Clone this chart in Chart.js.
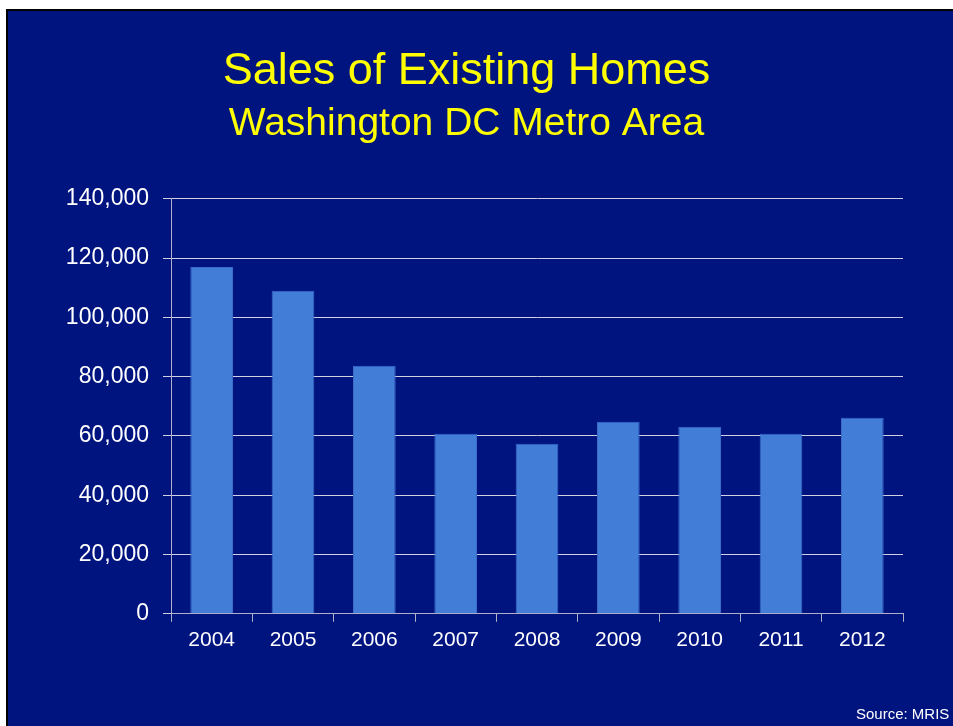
<!DOCTYPE html>
<html>
<head>
<meta charset="utf-8">
<script src="https://cdn.jsdelivr.net/npm/chart.js@4"></script>
<style>
  body { margin: 0; background: #fff; width: 953px; height: 726px; overflow: hidden; position: relative; font-family: "Liberation Sans", Arial, sans-serif; }
  #frame { position: absolute; left: 6px; top: 9px; width: 947px; height: 717px; background: #001480; border-left: 2px solid #000; border-top: 2px solid #000; box-sizing: border-box; }
  #wrap { position: absolute; left: 0; top: 0; width: 953px; height: 726px; }
  #source { position: absolute; left: 856px; top: 705px; color: #fff; font-size: 15px; white-space: nowrap; }
</style>
</head>
<body>
<div id="frame"></div>
<div id="wrap"><canvas id="chart" width="953" height="726"></canvas></div>
<div id="source">Source: MRIS</div>
<script>
const years = ['2004', '2005', '2006', '2007', '2008', '2009', '2010', '2011', '2012'];
const sales = [117000, 109000, 83700, 60700, 57400, 64800, 63100, 60700, 66100];
const yTicks = [0, 20000, 40000, 60000, 80000, 100000, 120000, 140000];

const font = '"Liberation Sans", Arial, sans-serif';

new Chart(document.getElementById('chart').getContext('2d'), {
    type: 'bar',
    data: {
        labels: years,
        datasets: [{
            data: sales,
            backgroundColor: '#427ed8',
            borderColor: '#3a6cc8',
            borderWidth: 1,
            categoryPercentage: 1,
            barPercentage: 0.525
        }]
    },
    options: {
        responsive: false,
        animation: false,
        layout: { padding: { left: 30, right: 50, top: 0, bottom: 67 } },
        plugins: {
            legend: { display: false },
            tooltip: { enabled: false },
            title: {
                display: true,
                text: 'Sales of Existing Homes',
                color: '#ffff00',
                font: { family: font, size: 45, weight: 'normal' },
                padding: { top: 45, bottom: 2 }
            },
            subtitle: {
                display: true,
                text: 'Washington DC Metro Area',
                color: '#ffff00',
                font: { family: font, size: 39, weight: 'normal' },
                padding: { top: 0, bottom: 51 }
            }
        },
        scales: {
            x: {
                grid: { display: true, drawOnChartArea: false, drawTicks: true, tickLength: 8, color: '#b0b0c8', offset: true },
                border: { color: '#b0b0c8', width: 1 },
                ticks: { color: '#fff', font: { family: font, size: 21 }, padding: 6, maxRotation: 0 }
            },
            y: {
                min: 0,
                max: 140000,
                afterBuildTicks: axis => { axis.ticks = yTicks.map(v => ({ value: v })); },
                afterFit: axis => { axis.width = 141; },
                grid: { color: '#d0d0e0', tickLength: 8, lineWidth: 1 },
                border: { color: '#b0b0c8', width: 1 },
                ticks: {
                    color: '#fff',
                    font: { family: font, size: 23 },
                    padding: 14,
                    callback: v => v.toLocaleString('en-US')
                }
            }
        }
    }
});
</script>
</body>
</html>
